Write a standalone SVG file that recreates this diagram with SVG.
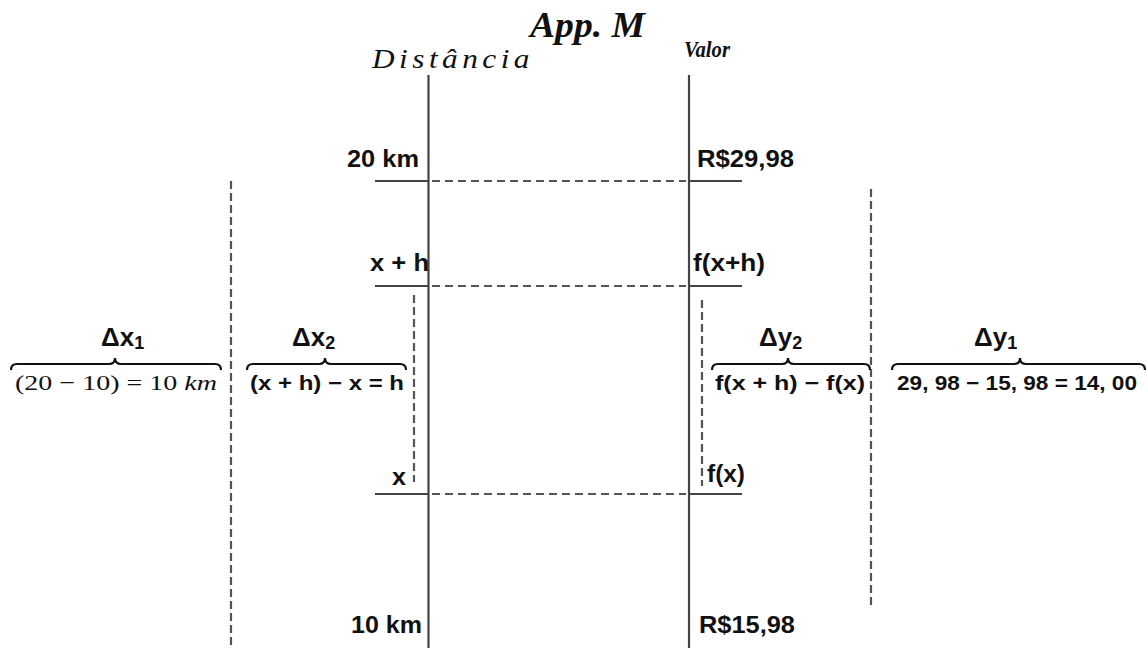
<svg xmlns="http://www.w3.org/2000/svg" width="1148" height="648" viewBox="0 0 1148 648">
<style>
.axis{stroke:#444;stroke-width:2.2;fill:none}
.dash{stroke:#555;stroke-width:2.2;stroke-dasharray:8 5;fill:none}
.vdash{stroke:#555;stroke-width:2.2;stroke-dasharray:8 4;fill:none}
.brace{stroke:#111;stroke-width:2.2;fill:none}
.lbl{font-family:"Liberation Sans",Arial,sans-serif;font-weight:bold;font-size:24px;fill:#111}
.delta{font-family:"Liberation Sans",Arial,sans-serif;font-weight:bold;font-size:26px;fill:#111}
.sub{font-size:18px}
.expr{font-family:"Liberation Sans",Arial,sans-serif;font-weight:bold;font-size:20px;fill:#111}
.math{font-family:"Liberation Serif","Times New Roman",serif;font-size:22px;fill:#111}
</style>
<rect width="1148" height="648" fill="#fff"/>
<g id="titles">
<text x="530" y="37" textLength="115" lengthAdjust="spacingAndGlyphs" font-family="Liberation Serif,serif" font-weight="bold" font-style="italic" font-size="35" fill="#111">App. M</text>
<text x="372" y="68" textLength="162" lengthAdjust="spacingAndGlyphs" font-family="Liberation Serif,serif" font-style="italic" font-size="28" letter-spacing="4" fill="#111">Distância</text>
<text x="684" y="57" textLength="46" lengthAdjust="spacingAndGlyphs" font-family="Liberation Serif,serif" font-weight="bold" font-style="italic" font-size="24" fill="#111">Valor</text>
</g>
<g id="connectors">
<line class="axis" x1="428.5" y1="75" x2="428.5" y2="648"/>
<line class="axis" x1="689" y1="75" x2="689" y2="648"/>
<line class="axis" x1="375" y1="181" x2="428" y2="181"/>
<line class="dash" x1="432" y1="181" x2="686" y2="181"/>
<line class="axis" x1="689" y1="181" x2="742" y2="181"/>
<line class="axis" x1="375" y1="286" x2="428" y2="286"/>
<line class="dash" x1="432" y1="286" x2="686" y2="286"/>
<line class="axis" x1="689" y1="286" x2="742" y2="286"/>
<line class="axis" x1="375" y1="494" x2="428" y2="494"/>
<line class="dash" x1="432" y1="494" x2="686" y2="494"/>
<line class="axis" x1="689" y1="494" x2="742" y2="494"/>
<line class="vdash" x1="231" y1="181" x2="231" y2="648"/>
<line class="vdash" x1="414" y1="295" x2="414" y2="482"/>
<line class="vdash" x1="702" y1="300" x2="702" y2="486"/>
<line class="vdash" x1="871" y1="189" x2="871" y2="605"/>
</g>
<g id="left-labels">
<text class="lbl" x="347" y="167" textLength="72" lengthAdjust="spacingAndGlyphs">20 km</text>
<text class="lbl" x="370" y="271" textLength="59" lengthAdjust="spacingAndGlyphs">x + h</text>
<text class="lbl" x="392" y="485" textLength="14" lengthAdjust="spacingAndGlyphs">x</text>
<text class="lbl" x="351" y="633" textLength="71" lengthAdjust="spacingAndGlyphs">10 km</text>
</g>
<g id="right-labels">
<text class="lbl" x="697" y="167" textLength="97" lengthAdjust="spacingAndGlyphs">R$29,98</text>
<text class="lbl" x="693" y="271" textLength="72" lengthAdjust="spacingAndGlyphs">f(x+h)</text>
<text class="lbl" x="707" y="482" textLength="38" lengthAdjust="spacingAndGlyphs">f(x)</text>
<text class="lbl" x="699" y="633" textLength="96" lengthAdjust="spacingAndGlyphs">R$15,98</text>
</g>
<g id="dx1">
<text class="delta" x="101" y="346">Δx<tspan class="sub" dy="3">1</tspan></text>
<path class="brace" d="M11,370 Q11,364 17,364 L109,364 Q115,364 115,358 Q115,364 121,364 L215,364 Q221,364 221,370"/>
<text class="math" x="116" y="390" text-anchor="middle" textLength="202" lengthAdjust="spacingAndGlyphs">(20 − 10) = 10 <tspan font-style="italic">km</tspan></text>
</g>
<g id="dx2">
<text class="delta" x="292" y="346">Δx<tspan class="sub" dy="3">2</tspan></text>
<path class="brace" d="M247,370 Q247,364 253,364 L319,364 Q325,364 325,358 Q325,364 331,364 L400,364 Q406,364 406,370"/>
<text class="expr" x="327" y="390" text-anchor="middle" textLength="154" lengthAdjust="spacingAndGlyphs">(x + h) − x = h</text>
</g>
<g id="dy2">
<text class="delta" x="759" y="346">Δy<tspan class="sub" dy="3">2</tspan></text>
<path class="brace" d="M712,370 Q712,364 718,364 L782,364 Q788,364 788,358 Q788,364 794,364 L864,364 Q870,364 870,370"/>
<text class="expr" x="790" y="390" text-anchor="middle" textLength="150" lengthAdjust="spacingAndGlyphs">f(x + h) − f(x)</text>
</g>
<g id="dy1">
<text class="delta" x="974" y="346">Δy<tspan class="sub" dy="3">1</tspan></text>
<path class="brace" d="M892,370 Q892,364 898,364 L1014,364 Q1020,364 1020,358 Q1020,364 1026,364 L1139,364 Q1145,364 1145,370"/>
<text class="expr" x="1017" y="390" text-anchor="middle" textLength="240" lengthAdjust="spacingAndGlyphs">29, 98 − 15, 98 = 14, 00</text>
</g>
</svg>
